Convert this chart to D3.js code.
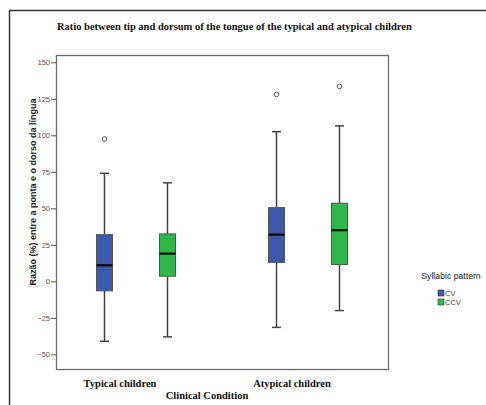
<!DOCTYPE html>
<html>
<head>
<meta charset="utf-8">
<script src="https://cdn.jsdelivr.net/npm/d3@7"></script>
<style>
  body { margin: 0; background: #fff; }
  svg { display: block; }
</style>
</head>
<body>
<script>
// data
var groups = ['Typical children', 'Atypical children'];
var series = ['CV', 'CCV'];
var colors = ['#3e58ac', '#2eb848'];
// [whisker low, q1, median, q3, whisker high]
var cvStats = [[-41, -6.5, 11, 32, 74], [-31.5, 13, 32, 50.5, 102.5]];
var ccvStats = [[-38, 3.5, 19, 32.5, 67.5], [-20, 11.5, 35, 53.5, 106.5]];
var cvOutliers = [[97.5], [128]];
var ccvOutliers = [[], [133.5]];
var yTicks = [-50, -25, 0, 25, 50, 75, 100, 125, 150];

var stats = [cvStats, ccvStats];
var outliers = [cvOutliers, ccvOutliers];

var W = 486, H = 405;
var plot = {left: 56, top: 55, right: 388, bottom: 369};

var svg = d3.select('body')
            .append('svg')
            .attr('width', W)
            .attr('height', H);

// outer frame (only top and left visible)
svg.append('path')
    .attr('d', 'M9.5,' + H + 'V10.5H' + W)
    .attr('fill', 'none')
    .attr('stroke', '#333')
    .attr('stroke-width', 1.5);

svg.append('text')
    .attr('x', 57)
    .attr('y', 29.5)
    .attr('font-family', 'Liberation Serif, Times New Roman, serif')
    .attr('font-weight', 'bold')
    .attr('font-size', 10.5)
    .attr('fill', '#111')
    .text('Ratio between tip and dorsum of the tongue of the typical and atypical children');

var y = d3.scaleLinear()
            .domain([-60, 155])
            .range([plot.bottom, plot.top]);

var x = d3.scalePoint()
            .domain(groups)
            .range([plot.left, plot.right])
            .padding(0.465);

var xs = d3.scalePoint()
            .domain(series)
            .range([-31.5, 31.5]);

var boxW = 16, capW = 9;

// plot frame
svg.append('rect')
    .attr('x', plot.left + 0.5)
    .attr('y', plot.top + 0.5)
    .attr('width', plot.right - plot.left)
    .attr('height', plot.bottom - plot.top)
    .attr('fill', 'none')
    .attr('stroke', '#6b6b6b')
    .attr('stroke-width', 1.3);

// y axis
var yAxis = d3.axisLeft(y).tickValues(yTicks).tickSize(5).tickPadding(1);
var gy = svg.append('g')
    .attr('transform', 'translate(' + plot.left + ',0)')
    .call(yAxis);
gy.select('.domain').remove();
gy.selectAll('line').attr('stroke', '#555');
gy.selectAll('text')
    .attr('font-family', 'Liberation Sans, Arial, sans-serif')
    .attr('font-size', 7.5)
    .attr('fill', '#555');

svg.append('text')
    .attr('transform', 'translate(36,192) rotate(-90)')
    .attr('text-anchor', 'middle')
    .attr('font-family', 'Liberation Sans, Arial, sans-serif')
    .attr('font-weight', 'bold')
    .attr('font-size', 9)
    .attr('fill', '#222')
    .text('Razão (%) entre a ponta e o dorso da língua');

// x labels
svg.selectAll('text.xlab')
    .data(groups)
    .enter().append('text')
    .attr('class', 'xlab')
    .attr('x', function(d){return x(d) - 16;})
    .attr('y', 387)
    .attr('text-anchor', 'middle')
    .attr('font-family', 'Liberation Serif, Times New Roman, serif')
    .attr('font-weight', 'bold')
    .attr('font-size', 10.5)
    .attr('fill', '#111')
    .text(function(d){return d;});

svg.append('text')
    .attr('x', 207)
    .attr('y', 399)
    .attr('text-anchor', 'middle')
    .attr('font-family', 'Liberation Serif, Times New Roman, serif')
    .attr('font-weight', 'bold')
    .attr('font-size', 10.5)
    .attr('fill', '#111')
    .text('Clinical Condition');

// boxes
series.forEach(function(s, si){
    groups.forEach(function(g, gi){
        var st = stats[si][gi];
        var cx = x(g) + xs(s);
        var b = svg.append('g');
        b.append('line')
            .attr('x1', cx).attr('x2', cx)
            .attr('y1', y(st[0])).attr('y2', y(st[4]))
            .attr('stroke', '#444').attr('stroke-width', 1.5);
        [st[0], st[4]].forEach(function(v){
            b.append('line')
                .attr('x1', cx - capW/2).attr('x2', cx + capW/2)
                .attr('y1', y(v)).attr('y2', y(v))
                .attr('stroke', '#444').attr('stroke-width', 1.5);
        });
        b.append('rect')
            .attr('x', cx - boxW/2)
            .attr('y', y(st[3]))
            .attr('width', boxW)
            .attr('height', y(st[1]) - y(st[3]))
            .attr('fill', colors[si])
            .attr('stroke', '#555')
            .attr('stroke-width', 1);
        b.append('line')
            .attr('x1', cx - boxW/2).attr('x2', cx + boxW/2)
            .attr('y1', y(st[2])).attr('y2', y(st[2]))
            .attr('stroke', '#000').attr('stroke-width', 2);
        b.selectAll('circle')
            .data(outliers[si][gi])
            .enter().append('circle')
            .attr('cx', cx)
            .attr('cy', function(d){return y(d);})
            .attr('r', 2.3)
            .attr('fill', '#fff')
            .attr('stroke', '#555')
            .attr('stroke-width', 1);
    });
});

// legend
svg.append('text')
    .attr('x', 451)
    .attr('y', 279)
    .attr('text-anchor', 'middle')
    .attr('font-family', 'Liberation Sans, Arial, sans-serif')
    .attr('font-size', 8.7)
    .attr('fill', '#222')
    .text('Syllabic pattern');

var leg = svg.selectAll('g.leg')
    .data(series)
    .enter().append('g')
    .attr('class', 'leg')
    .attr('transform', function(d, i){return 'translate(438,' + (290 + i*9) + ')';});
leg.append('rect')
    .attr('width', 6).attr('height', 6)
    .attr('fill', function(d, i){return colors[i];})
    .attr('stroke', '#333').attr('stroke-width', 0.6);
leg.append('text')
    .attr('x', 7).attr('y', 6)
    .attr('font-family', 'Liberation Sans, Arial, sans-serif')
    .attr('font-size', 7.5)
    .attr('fill', '#444')
    .text(function(d){return d;});
</script>
</body>
</html>
